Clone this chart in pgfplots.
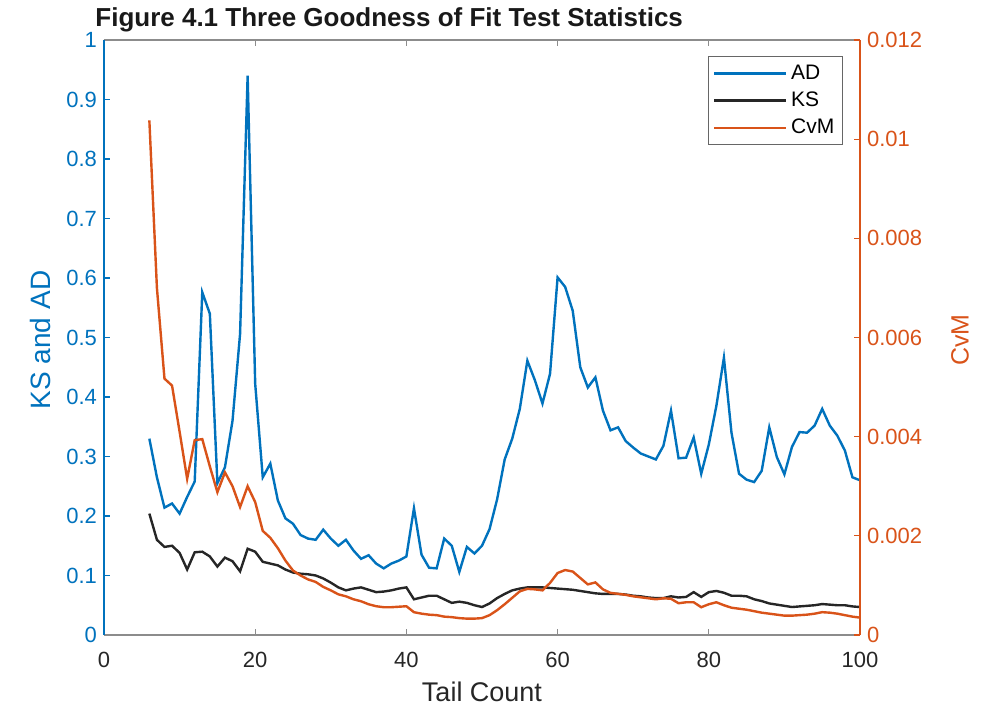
\documentclass[border=0pt]{standalone}
\usepackage{pgfplots}
\pgfplotsset{compat=1.18}
\usepackage{pgfplotstable}
\usepackage{fontspec}
\setmainfont{Liberation Sans}

\definecolor{matlabblue}{rgb}{0,0.447,0.741}
\definecolor{matlaborange}{rgb}{0.85,0.325,0.098}
\definecolor{axisgray}{gray}{0.55}

% tail count, Anderson-Darling, Kolmogorov-Smirnov, Cramer-von Mises
\pgfplotstableread{
x   ad     ks     cvm
6   0.330  0.204  0.01038
7   0.265  0.160  0.00700
8   0.214  0.148  0.00517
9   0.221  0.150  0.00503
10  0.204  0.138  0.00410
11  0.232  0.110  0.00315
12  0.258  0.139  0.00393
13  0.576  0.140  0.00395
14  0.540  0.132  0.00340
15  0.255  0.115  0.00288
16  0.282  0.130  0.00328
17  0.360  0.124  0.00300
18  0.506  0.107  0.00258
19  0.940  0.145  0.00300
20  0.422  0.140  0.00268
21  0.265  0.123  0.00210
22  0.288  0.120  0.00196
23  0.226  0.117  0.00175
24  0.196  0.110  0.00150
25  0.187  0.105  0.00130
26  0.168  0.103  0.00120
27  0.162  0.102  0.00112
28  0.160  0.100  0.00107
29  0.177  0.095  0.00097
30  0.162  0.088  0.00090
31  0.150  0.080  0.00082
32  0.160  0.075  0.00078
33  0.142  0.078  0.00072
34  0.128  0.080  0.00068
35  0.134  0.076  0.00062
36  0.120  0.072  0.00058
37  0.112  0.073  0.00056
38  0.120  0.075  0.00056
39  0.125  0.078  0.00057
40  0.132  0.080  0.00058
41  0.213  0.060  0.00046
42  0.135  0.063  0.00043
43  0.113  0.066  0.00041
44  0.112  0.066  0.00040
45  0.162  0.060  0.00037
46  0.150  0.054  0.00036
47  0.106  0.056  0.00034
48  0.148  0.054  0.00033
49  0.137  0.050  0.00033
50  0.150  0.047  0.00034
51  0.178  0.053  0.00040
52  0.228  0.062  0.00050
53  0.295  0.069  0.00062
54  0.330  0.075  0.00075
55  0.380  0.078  0.00088
56  0.461  0.080  0.00093
57  0.428  0.080  0.00092
58  0.389  0.080  0.00090
59  0.439  0.079  0.00105
60  0.601  0.078  0.00125
61  0.585  0.077  0.00131
62  0.545  0.076  0.00128
63  0.450  0.074  0.00115
64  0.416  0.072  0.00102
65  0.433  0.070  0.00106
66  0.377  0.069  0.00092
67  0.344  0.069  0.00085
68  0.349  0.069  0.00083
69  0.326  0.068  0.00081
70  0.315  0.066  0.00078
71  0.305  0.065  0.00076
72  0.300  0.063  0.00074
73  0.295  0.062  0.00072
74  0.318  0.062  0.00074
75  0.377  0.065  0.00073
76  0.297  0.063  0.00064
77  0.298  0.064  0.00066
78  0.332  0.072  0.00066
79  0.271  0.064  0.00056
80  0.320  0.072  0.00062
81  0.385  0.074  0.00066
82  0.466  0.071  0.00060
83  0.340  0.066  0.00055
84  0.271  0.066  0.00053
85  0.261  0.065  0.00051
86  0.257  0.060  0.00048
87  0.276  0.057  0.00045
88  0.349  0.053  0.00043
89  0.299  0.051  0.00041
90  0.270  0.049  0.00039
91  0.316  0.047  0.00039
92  0.341  0.048  0.00040
93  0.340  0.049  0.00041
94  0.352  0.050  0.00043
95  0.380  0.052  0.00046
96  0.352  0.051  0.00045
97  0.335  0.050  0.00043
98  0.310  0.050  0.00040
99  0.265  0.048  0.00037
100 0.260  0.047  0.00035
}\gof

\pgfplotsset{
  gofbase/.style={
    scale only axis,
    width=378pt, height=297.5pt,
    at={(0pt,0pt)}, anchor=south west,
    xmin=0, xmax=100,
    tick align=inside,
    major tick length=3pt,
    /pgf/number format/assume math mode=true,
    ticklabel style={font=\fontsize{11}{13}\selectfont},
  },
}

\begin{document}
\begin{tikzpicture}
\useasboundingbox (-52pt,-35pt) rectangle (439pt,317.5pt);

% left axis: AD and KS
\begin{axis}[
  gofbase,
  ymin=0, ymax=1,
  axis y line*=left,
  xtick={0,20,...,100},
  ytick={0,0.1,...,1.0},
  x axis line style={axisgray, line width=0.7pt},
  y axis line style={matlabblue, line width=0.7pt},
  x tick style={axisgray, line width=0.6pt},
  y tick style={matlabblue, line width=0.6pt},
  yticklabel style={matlabblue},
  xticklabel style={black!85, yshift=-5pt},
]
\addplot[matlabblue, line width=1.2pt] table[x=x, y=ad] {\gof};
\addplot[black!85, line width=1.2pt] table[x=x, y=ks] {\gof};
\end{axis}

% right axis: CvM
\begin{axis}[
  gofbase,
  ymin=0, ymax=0.012,
  axis y line*=right,
  axis x line=none,
  ytick={0,0.002,...,0.012},
  scaled y ticks=false,
  yticklabel style={matlaborange, /pgf/number format/fixed, /pgf/number format/precision=3},
  y axis line style={matlaborange, line width=0.7pt},
  y tick style={matlaborange, line width=0.6pt},
  legend style={
    at={(1,1)}, anchor=north east, xshift=-8.5pt, yshift=-8pt,
    draw=black!60, line width=0.6pt,
    font=\fontsize{10.5}{12}\selectfont,
    inner sep=2pt, row sep=0.8pt,
  },
  legend cell align=left,
  legend image code/.code={\draw[#1] (0pt,0pt) -- (36pt,0pt);},
]
\addlegendimage{matlabblue, line width=1.2pt}
\addlegendentry{AD}
\addlegendimage{black!85, line width=1.2pt}
\addlegendentry{KS}
\addplot[matlaborange, line width=1.2pt] table[x=x, y=cvm] {\gof};
\addlegendentry{CvM}
\end{axis}

\node[anchor=base west, inner sep=0pt, font=\bfseries\fontsize{13}{15}\selectfont, black!90] at (-4.5pt,304pt) {Figure 4.1 Three Goodness of Fit Test Statistics};
\node[font=\fontsize{13.5}{15}\selectfont, black!85] at (189pt,-28.5pt) {Tail Count};
\node[rotate=90, font=\fontsize{14}{16}\selectfont, matlabblue] at (-32pt,147.5pt) {KS and AD};
\node[rotate=90, font=\fontsize{12.5}{15}\selectfont, matlaborange] at (428pt,147.5pt) {CvM};
\end{tikzpicture}
\end{document}
